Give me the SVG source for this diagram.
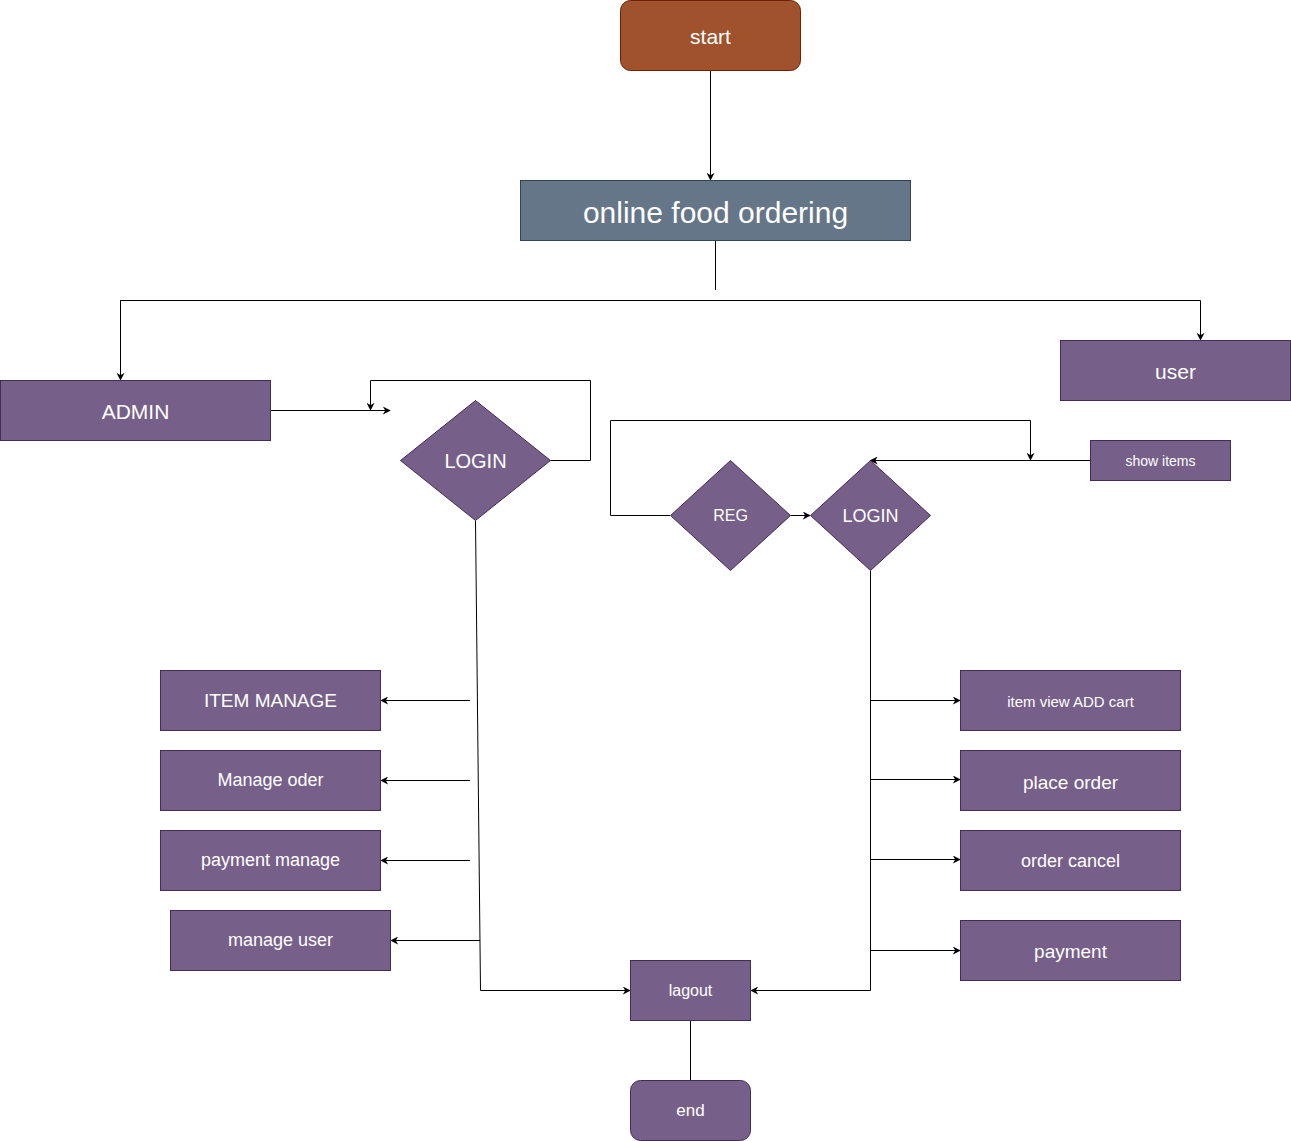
<svg xmlns="http://www.w3.org/2000/svg" width="1291" height="1141" viewBox="0 0 1291 1141">
<defs>
<marker id="arr" viewBox="0 0 10 10" refX="9" refY="5" markerWidth="8" markerHeight="8" orient="auto" markerUnits="userSpaceOnUse">
<path d="M0,0 L10,5 L0,10 L3,5 z" fill="#000"/>
</marker>
<style>
.p{fill:#76608a;stroke:#432d57;stroke-width:1}
.t{fill:#ffffff;font-family:"Liberation Sans",Arial,sans-serif;text-anchor:middle;dominant-baseline:central}
.c{fill:none;stroke:#000;stroke-width:1}
</style>
</defs>
<rect width="1291" height="1141" fill="#fff"/>
<g id="connectors">
<path class="c" d="M710.5,70.5 V180" marker-end="url(#arr)"/>
<path class="c" d="M715.5,240.5 V290"/>
<path class="c" d="M120.5,380 V300.5 H1200.5 V340" marker-end="url(#arr)"/>
<path class="c" d="M120.5,300.5 V380" marker-end="url(#arr)"/>
<path class="c" d="M270.5,410.5 H390" marker-end="url(#arr)"/>
<path class="c" d="M550.5,460.5 H590.5 V380.5 H370.5 V410" marker-end="url(#arr)"/>
<path class="c" d="M475.5,520.5 L480.5,990.5 H630" marker-end="url(#arr)"/>
<path class="c" d="M470,700.5 H381" marker-end="url(#arr)"/>
<path class="c" d="M470,780.5 H381" marker-end="url(#arr)"/>
<path class="c" d="M470,860.5 H381" marker-end="url(#arr)"/>
<path class="c" d="M480,940.5 H391" marker-end="url(#arr)"/>
<path class="c" d="M610.5,515.5 H670"/>
<path class="c" d="M610.5,515.5 V420.5 H1030.5 V460" marker-end="url(#arr)"/>
<path class="c" d="M790.5,515.5 H810" marker-end="url(#arr)"/>
<path class="c" d="M1090,460.5 H870.5" marker-end="url(#arr)"/>
<path class="c" d="M870.5,570.5 V990.5 H751" marker-end="url(#arr)"/>
<path class="c" d="M870.5,700.5 H960" marker-end="url(#arr)"/>
<path class="c" d="M870.5,779.5 H960" marker-end="url(#arr)"/>
<path class="c" d="M870.5,859.5 H960" marker-end="url(#arr)"/>
<path class="c" d="M870.5,950.5 H960" marker-end="url(#arr)"/>
<path class="c" d="M690.5,1020.5 V1080.5"/>
</g>
<g id="start"><rect x="620.5" y="0.5" width="180" height="70" rx="10" fill="#a0522d" stroke="#6d1f00"/><text class="t" x="710.5" y="36" font-size="21">start</text></g>
<g id="online"><rect x="520.5" y="180.5" width="390" height="60" fill="#647687" stroke="#314354"/><text class="t" x="715.5" y="212" font-size="30">online food ordering</text></g>
<g id="admin"><rect class="p" x="0.5" y="380.5" width="270" height="60"/><text class="t" x="135.5" y="411" font-size="21">ADMIN</text></g>
<g id="user"><rect class="p" x="1060.5" y="340.5" width="230" height="60"/><text class="t" x="1175.5" y="371" font-size="21">user</text></g>
<g id="login1"><polygon class="p" points="475.5,400.5 550.5,460.5 475.5,520.5 400.5,460.5"/><text class="t" x="475.5" y="461" font-size="20">LOGIN</text></g>
<g id="reg"><polygon class="p" points="730.5,460.5 790.5,515.5 730.5,570.5 670.5,515.5"/><text class="t" x="730.5" y="515" font-size="16">REG</text></g>
<g id="login2"><polygon class="p" points="870.5,460.5 930.5,515.5 870.5,570.5 810.5,515.5"/><text class="t" x="870.5" y="516" font-size="18">LOGIN</text></g>
<g id="showitems"><rect class="p" x="1090.5" y="440.5" width="140" height="40"/><text class="t" x="1160.5" y="461" font-size="14">show items</text></g>
<g id="itemmanage"><rect class="p" x="160.5" y="670.5" width="220" height="60"/><text class="t" x="270.5" y="700" font-size="19">ITEM MANAGE</text></g>
<g id="manageoder"><rect class="p" x="160.5" y="750.5" width="220" height="60"/><text class="t" x="270.5" y="780" font-size="18">Manage oder</text></g>
<g id="paymentmanage"><rect class="p" x="160.5" y="830.5" width="220" height="60"/><text class="t" x="270.5" y="860" font-size="18">payment manage</text></g>
<g id="manageuser"><rect class="p" x="170.5" y="910.5" width="220" height="60"/><text class="t" x="280.5" y="940" font-size="18">manage user</text></g>
<g id="itemview"><rect class="p" x="960.5" y="670.5" width="220" height="60"/><text class="t" x="1070.5" y="701" font-size="15">item view ADD cart</text></g>
<g id="placeorder"><rect class="p" x="960.5" y="750.5" width="220" height="60"/><text class="t" x="1070.5" y="782" font-size="19">place order</text></g>
<g id="ordercancel"><rect class="p" x="960.5" y="830.5" width="220" height="60"/><text class="t" x="1070.5" y="861" font-size="18">order cancel</text></g>
<g id="payment"><rect class="p" x="960.5" y="920.5" width="220" height="60"/><text class="t" x="1070.5" y="951" font-size="19">payment</text></g>
<g id="lagout"><rect class="p" x="630.5" y="960.5" width="120" height="60"/><text class="t" x="690.5" y="990" font-size="16">lagout</text></g>
<g id="end"><rect class="p" x="630.5" y="1080.5" width="120" height="60" rx="10"/><text class="t" x="690.5" y="1110" font-size="17">end</text></g>
</svg>
